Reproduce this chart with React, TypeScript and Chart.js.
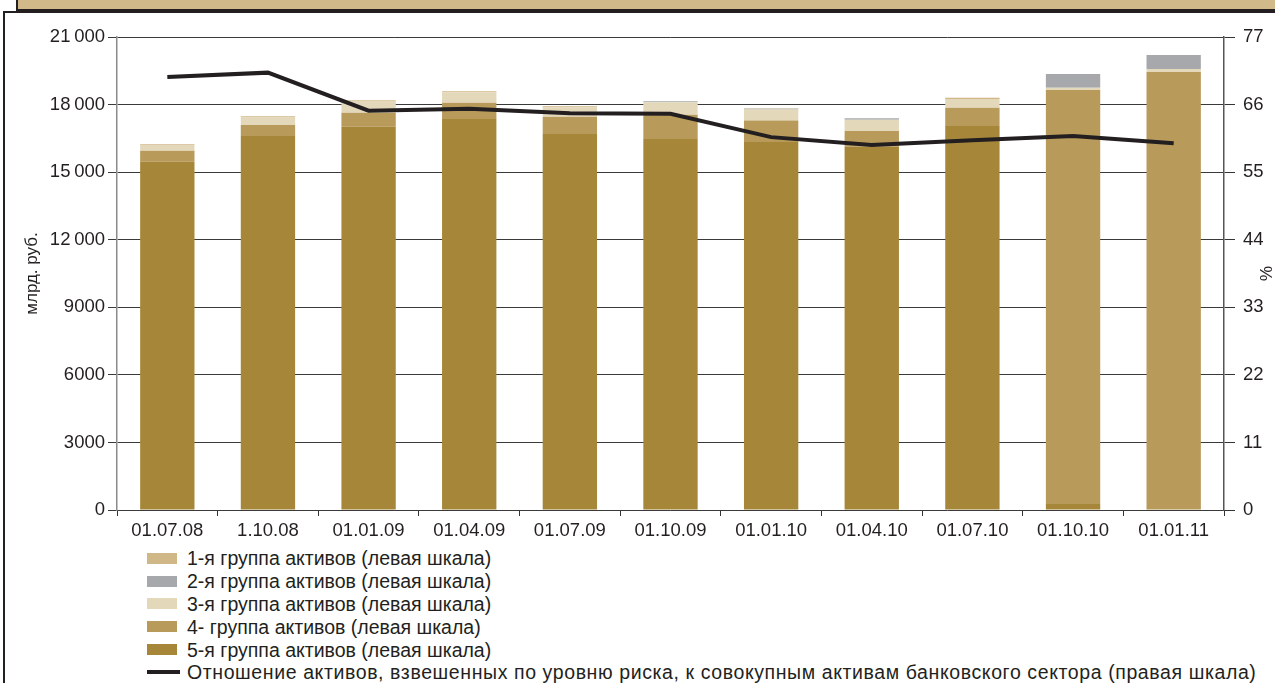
import React, { useEffect, useRef } from "react";
import { Chart, registerables } from "chart.js";

Chart.register(...registerables);

const categories = ["01.07.08", "1.10.08", "01.01.09", "01.04.09", "01.07.09", "01.10.09", "01.01.10", "01.04.10", "01.07.10", "01.10.10", "01.01.11"];

const group1 = [40, 50, 30, 40, 50, 0, 20, 0, 50, 0, 0];
const group2 = [0, 0, 0, 0, 0, 50, 40, 60, 0, 610, 620];
const group3 = [250, 340, 530, 470, 420, 550, 490, 500, 390, 100, 130];
const group4 = [490, 490, 620, 720, 770, 1080, 950, 700, 810, 18380, 19450];
const group5 = [15460, 16600, 17020, 17360, 16690, 16470, 16340, 16130, 17050, 270, 0];

const riskRatio = [70.5, 71.2, 65.0, 65.3, 64.6, 64.5, 60.7, 59.4, 60.2, 60.9, 59.7];

const leftTickLabels = ["0", "3000", "6000", "9000", "12\u2009000", "15\u2009000", "18\u2009000", "21\u2009000"];
const rightTickLabels = ["0", "11", "22", "33", "44", "55", "66", "77"];

const seriesNames = [
  "1-я группа активов (левая шкала)",
  "2-я группа активов (левая шкала)",
  "3-я группа активов (левая шкала)",
  "4- группа активов (левая шкала)",
  "5-я группа активов (левая шкала)",
  "Отношение активов, взвешенных по уровню риска, к совокупным активам банковского сектора (правая шкала)",
];

const colors = {
  g1: "#d0b787",
  g2: "#a7a8ab",
  g3: "#e4d8bb",
  g4: "#b89a5b",
  g5: "#a6873a",
  line: "#231f20",
};

const FONT = "'Liberation Sans', Arial, sans-serif";
const TEXT = "#231f20";

export default function App() {
  const ref = useRef<HTMLCanvasElement | null>(null);

  useEffect(() => {
    if (!ref.current) return;
    const chart = new Chart(ref.current, {
      type: "bar",
      data: {
        labels: categories,
        datasets: [
          {
            type: "line",
            label: seriesNames[5],
            data: riskRatio,
            yAxisID: "y1",
            borderColor: colors.line,
            backgroundColor: colors.line,
            borderWidth: 4,
            pointRadius: 0,
            tension: 0,
          } as any,
          { label: seriesNames[4], data: group5, backgroundColor: colors.g5, yAxisID: "y", stack: "s" },
          { label: seriesNames[3], data: group4, backgroundColor: colors.g4, yAxisID: "y", stack: "s" },
          { label: seriesNames[2], data: group3, backgroundColor: colors.g3, yAxisID: "y", stack: "s" },
          { label: seriesNames[1], data: group2, backgroundColor: colors.g2, yAxisID: "y", stack: "s" },
          { label: seriesNames[0], data: group1, backgroundColor: colors.g1, yAxisID: "y", stack: "s" },
        ],
      },
      options: {
        responsive: false,
        animation: false,
        devicePixelRatio: 1,
        datasets: { bar: { barPercentage: 0.54, categoryPercentage: 1 } },
        layout: { padding: { left: 22, top: 37, right: 0, bottom: 0 } },
        plugins: { legend: { display: false }, tooltip: { enabled: false } },
        scales: {
          x: {
            stacked: true,
            offset: true,
            grid: { display: true, drawOnChartArea: false, offset: true, tickLength: 6, color: "#333", lineWidth: 1 },
            border: { display: false },
            ticks: { color: TEXT, font: { family: FONT, size: 18.5 }, padding: 4, maxRotation: 0 },
            afterFit: (s: any) => { s.height = 35; },
          },
          y: {
            stacked: true,
            position: "left",
            min: 0,
            max: 21000,
            grid: { color: "#3a3a3a", lineWidth: 1, tickLength: 9 },
            border: { display: true, color: "#8a8a8a", width: 1.5 },
            ticks: {
              stepSize: 3000,
              color: TEXT,
              font: { family: FONT, size: 18.5 },
              padding: 3,
              callback: (_v: any, i: number) => leftTickLabels[i],
            },
            title: { display: true, text: "млрд. руб.", color: TEXT, font: { family: FONT, size: 17 }, padding: 0 },
            afterFit: (s: any) => { s.width = 95; },
          },
          y1: {
            position: "right",
            min: 0,
            max: 77,
            grid: { drawOnChartArea: false, color: "#333", tickLength: 11 },
            border: { display: true, color: "#555", width: 1.5 },
            ticks: {
              stepSize: 11,
              color: TEXT,
              font: { family: FONT, size: 18.5 },
              padding: 8,
              callback: (_v: any, i: number) => rightTickLabels[i],
            },
            title: { display: true, text: "%", color: TEXT, font: { family: FONT, size: 17 }, padding: 0 },
            afterFit: (s: any) => { s.width = 51; },
          },
        },
      },
    });
    return () => chart.destroy();
  }, []);

  const swatches = [colors.g1, colors.g2, colors.g3, colors.g4, colors.g5];

  return (
    <div style={{ position: "absolute", left: 0, top: 0, width: 1275, height: 683, overflow: "hidden", background: "#fff", fontFamily: FONT, color: TEXT }}>
      <div style={{ position: "absolute", left: 16, top: -4, width: 1300, height: 13, background: "#d2b98a", borderLeft: "2px solid #231f20", borderBottom: "2px solid #231f20" }} />
      <div style={{ position: "absolute", left: 3, top: 11, width: 1300, height: 700, borderLeft: "2px solid #231f20", borderTop: "2px solid #231f20" }} />
      <canvas ref={ref} width={1275} height={545} style={{ position: "absolute", left: 0, top: 0, width: 1275, height: 545 }} />
      <div style={{ position: "absolute", left: 147, top: 547 }}>
        {seriesNames.map((name, i) => (
          <div key={i} style={{ display: "flex", alignItems: "center", height: 22.8, whiteSpace: "nowrap" }}>
            {i < 5 ? (
              <span style={{ display: "inline-block", width: 30, height: 11, background: swatches[i], marginRight: 10 }} />
            ) : (
              <span style={{ display: "inline-block", width: 33, height: 4, background: colors.line, marginRight: 7 }} />
            )}
            <span style={{ fontSize: 19.5, lineHeight: "22px", letterSpacing: i === 5 ? "0.6px" : "0px" }}>{name}</span>
          </div>
        ))}
      </div>
    </div>
  );
}
